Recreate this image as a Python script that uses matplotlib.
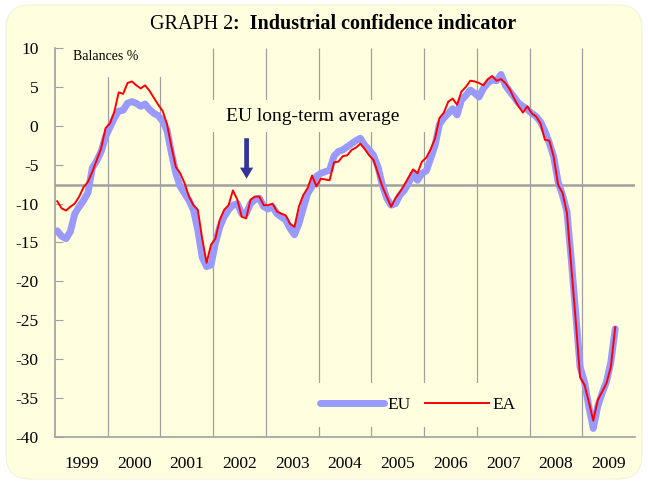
import matplotlib
matplotlib.use('Agg')
import matplotlib.pyplot as plt
from matplotlib.patches import FancyBboxPatch, Rectangle
from matplotlib.transforms import IdentityTransform

plt.rcParams['font.family'] = ['Liberation Serif', 'DejaVu Serif']

# monthly balances, Jan 1999 - Aug 2009
years = [str(y) for y in range(1999, 2010)]

eu = [-13.5, -14.2, -14.5, -13.6, -11.3, -10.4, -9.6, -8.6, -5.4, -4.5, -3.3, -1.4,
      -0.2, 1.0, 1.9, 2.0, 2.9, 3.1, 2.9, 2.5, 2.8, 2.1, 1.6, 1.3,
      0.6, -0.6, -3.5, -6.1, -7.8, -8.7, -9.6, -10.8, -13.4, -16.9, -18.1, -17.9,
      -15.1, -13.0, -11.7, -10.8, -10.2, -10.0, -11.3, -11.3, -10.0, -9.5, -9.3, -10.4,
      -10.7, -10.4, -11.3, -11.7, -12.1, -13.2, -14.0, -12.6, -10.6, -8.7, -7.8, -6.5,
      -6.1, -5.9, -5.7, -3.9, -3.3, -3.1, -2.7, -2.3, -1.9, -1.6, -2.5, -3.1,
      -3.8, -5.3, -7.6, -9.3, -10.2, -10.0, -8.9, -8.3, -7.3, -6.2, -7.0, -6.1,
      -5.8, -4.2, -2.5, 0.2, 1.0, 1.6, 2.2, 1.4, 3.3, 3.9, 4.6, 4.2,
      3.7, 4.8, 5.5, 5.9, 5.8, 6.6, 5.2, 4.4, 3.7, 2.9, 2.5, 2.1,
      1.6, 1.2, 0.5, -0.7, -2.2, -4.0, -7.2, -8.9, -11.0, -17.2, -24.1, -31.0,
      -32.9, -36.1, -38.9, -36.1, -34.4, -32.9, -30.4, -26.1]

ea = [-9.7, -10.6, -10.9, -10.4, -10.0, -9.1, -7.9, -7.2, -5.9, -4.4, -2.9, -0.3,
      0.3, 1.8, 4.3, 4.1, 5.5, 5.7, 5.2, 4.8, 5.2, 4.5, 3.6, 2.7,
      1.9, 0.2, -2.7, -5.3, -6.1, -7.4, -9.1, -10.2, -10.8, -14.5, -17.6, -15.3,
      -14.5, -12.1, -10.8, -10.2, -8.3, -9.5, -11.7, -11.9, -9.5, -9.1, -9.1, -10.2,
      -10.2, -10.0, -11.0, -11.3, -11.5, -12.6, -13.0, -10.4, -8.9, -8.0, -6.4, -7.8,
      -6.8, -6.9, -7.0, -4.7, -4.6, -3.9, -3.8, -3.1, -2.8, -2.3, -3.0, -3.8,
      -4.4, -6.1, -7.8, -9.1, -10.4, -9.3, -8.5, -7.6, -6.6, -5.6, -6.1, -4.6,
      -4.1, -3.0, -1.6, 1.0, 1.7, 3.1, 3.5, 2.7, 4.4, 5.0, 5.8, 5.7,
      5.5, 5.2, 6.0, 6.4, 5.8, 6.0, 5.5, 4.7, 3.5, 2.5, 1.7, 2.5,
      1.6, 1.2, 0.3, -1.8, -1.9, -4.0, -7.6, -8.6, -11.2, -18.1, -25.0, -32.3,
      -33.3, -35.5, -37.9, -35.3, -34.2, -33.1, -31.0, -25.9]

long_term_avg = -7.6
yticks = list(range(-40, 11, 5))

bg = '#ffffe0'
grey = '#a0a0a0'

fig = plt.figure(figsize=(6.48, 4.83), dpi=100)
fig.patch.set_facecolor('white')
frame = FancyBboxPatch((6, 4), 636, 474, boxstyle='round,pad=0,rounding_size=24',
                       transform=IdentityTransform(), facecolor=bg,
                       edgecolor='#f2f2d8', lw=0.8, zorder=-5)
fig.patches.append(frame)

ax = fig.add_axes([55/648, 46/483, 580/648, 389/483])
ax.patch.set_alpha(0)

months = [i + 0.5 for i in range(len(eu))]
ax.plot(months, eu, color='#9999ff', lw=5, solid_capstyle='round',
        solid_joinstyle='round', label='EU', zorder=3)
ax.plot(months, ea, color='#ff0000', lw=1.4, label='EA', zorder=4)

ax.set_xlim(0, 12 * len(years))
ax.set_ylim(-40, 10)

# year separators and long-term average
ax.vlines([12 * k for k in range(1, len(years))], -40, 10, colors=grey, lw=0.9, zorder=1)
ax.axhline(long_term_avg, color=grey, lw=1.8, zorder=2)

# background boxes behind the labels
ax.add_patch(Rectangle((0, 0.925), 0.193, 0.075, transform=ax.transAxes,
                       facecolor=bg, edgecolor='none', zorder=1.5))
ax.add_patch(Rectangle((0.262, 0.784), 0.379, 0.082, transform=ax.transAxes,
                       facecolor=bg, edgecolor='none', zorder=1.5))

ax.text(0.031, 0.977, 'Balances %', transform=ax.transAxes, fontsize=10,
        ha='left', va='center', zorder=2)
ax.text(0.445, 0.825, 'EU long-term average', transform=ax.transAxes,
        fontsize=14, ha='center', va='center', zorder=2)
ax.annotate('', xy=(43.6, -6.8), xytext=(43.6, -1.6),
            arrowprops=dict(width=3.4, headwidth=9.5, headlength=8,
                            color='#333399', lw=0))

ax.set_yticks(yticks)
ax.set_yticklabels([str(v) for v in yticks])
ax.set_xticks([12 * k + 6 for k in range(len(years))])
ax.set_xticklabels(years)
ax.tick_params(axis='y', direction='in', length=6, color=grey, labelsize=12.5, pad=12)
ax.tick_params(axis='x', length=0, labelsize=12.5, pad=14)

for s in ['top', 'right']:
    ax.spines[s].set_visible(False)
for s in ['left', 'bottom']:
    ax.spines[s].set_color(grey)
    ax.spines[s].set_linewidth(1.2)

leg = ax.legend(loc='center', bbox_to_anchor=(0.626, 0.082), ncol=2, fontsize=12.5,
                frameon=True, facecolor=bg, edgecolor='none', framealpha=1,
                handlelength=3.7, handletextpad=0.2, columnspacing=0.8,
                borderpad=0.8)

# title: regular "GRAPH 2" followed by bold part, centred as a whole
t1 = fig.text(0.2, 454/483, 'GRAPH 2', fontsize=14.5, va='baseline', ha='left')
t2 = ax.annotate(':  Industrial confidence indicator', xy=(1, 0), xycoords=t1,
                 va='bottom', ha='left', fontsize=14.5, fontweight='bold',
                 annotation_clip=False)
r = fig.canvas.get_renderer()
w = t1.get_window_extent(r).width + t2.get_window_extent(r).width
t1.set_x((333 - w / 2) / 648)

fig.savefig('out.png', dpi=100, facecolor=fig.get_facecolor())
